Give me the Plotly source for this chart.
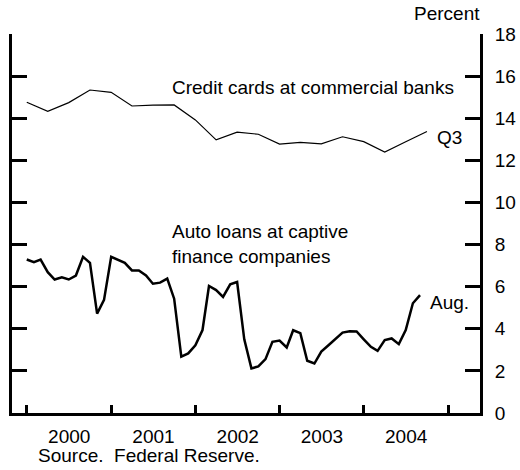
import pandas as pd
import plotly.graph_objects as go

# Credit cards at commercial banks, quarterly (Q4 1999 - Q3 2004), plotted at quarter end
credit_dates = pd.date_range("1999-12-31", periods=20, freq="QE")
credit_values = [14.76, 14.33, 14.74, 15.34, 15.23, 14.58, 14.62, 14.63, 13.92, 12.97,
                 13.34, 13.24, 12.77, 12.85, 12.78, 13.12, 12.89, 12.39, 12.88, 13.37]

# Auto loans at captive finance companies, monthly (Dec 1999 - Aug 2004)
auto_dates = pd.date_range("1999-12-31", periods=57, freq="ME")
auto_values = [7.29, 7.16, 7.29, 6.69, 6.34, 6.44, 6.34, 6.53, 7.42, 7.13,
               4.72, 5.37, 7.42, 7.26, 7.13, 6.77, 6.77, 6.53, 6.14, 6.19,
               6.38, 5.43, 2.68, 2.83, 3.22, 3.94, 6.03, 5.84, 5.51, 6.11,
               6.22, 3.50, 2.12, 2.21, 2.56, 3.38, 3.44, 3.11, 3.93, 3.79,
               2.48, 2.35, 2.92, 3.22, 3.54, 3.82, 3.88, 3.87, 3.50, 3.14,
               2.95, 3.46, 3.54, 3.27, 3.94, 5.21, 5.60]

y_ticks = [0, 2, 4, 6, 8, 10, 12, 14, 16, 18]

FONT = "Liberation Sans, Arial, sans-serif"
FS = 19

fig = go.Figure()
fig.add_trace(go.Scatter(x=credit_dates, y=credit_values, mode="lines",
                         line=dict(color="black", width=1.2), showlegend=False))
fig.add_trace(go.Scatter(x=auto_dates, y=auto_values, mode="lines",
                         line=dict(color="black", width=2.5), showlegend=False))

L, R, T, B = 12, 40, 34, 57
W = 520 - L - R
H = 470 - T - B


def px(x):
    return (x - L) / W


def py(y):
    return (470 - B - y) / H


annots = [
    dict(text="Credit cards at commercial banks", x=px(170), y=py(87), xanchor="left", yanchor="middle"),
    dict(text="Auto loans at captive<br>finance companies", x=px(170), y=py(244), xanchor="left",
         yanchor="middle", align="left"),
    dict(text="Q3", x=px(435), y=py(137.5), xanchor="left", yanchor="middle"),
    dict(text="Aug.", x=px(427.5), y=py(302), xanchor="left", yanchor="middle"),
    dict(text="Percent", x=px(482), y=py(13.5), xanchor="right", yanchor="middle"),
    dict(text="Source.  Federal Reserve.", x=px(36), y=py(455), xanchor="left", yanchor="middle"),
]
for a in annots:
    fig.add_annotation(xref="paper", yref="paper", showarrow=False,
                       font=dict(family=FONT, size=FS, color="black"), **a)

fig.update_layout(
    width=520, height=470,
    margin=dict(l=L, r=R, t=T, b=B, autoexpand=False),
    paper_bgcolor="white", plot_bgcolor="white",
    font=dict(family=FONT, size=FS, color="black"),
    xaxis=dict(type="date", range=["1999-10-28", "2005-05-18"],
               tick0="2000-01-01", dtick="M12", tickformat="%Y", ticklabelmode="period",
               ticks="inside", ticklen=8, tickwidth=3, tickcolor="black",
               showline=True, linewidth=3, linecolor="black",
               ticklabelstandoff=4, automargin=False,
               showgrid=False, zeroline=False),
    yaxis=dict(range=[0, 18], side="right", tickvals=y_ticks,
               ticks="inside", ticklen=15, tickwidth=3, tickcolor="black",
               showline=True, linewidth=3, linecolor="black", mirror="ticks",
               ticklabelstandoff=8, automargin=False,
               showgrid=False, zeroline=False),
)

fig.write_html("out.html", config={"displayModeBar": False},
               post_script="document.body.style.margin='0';document.body.style.overflow='hidden';")
